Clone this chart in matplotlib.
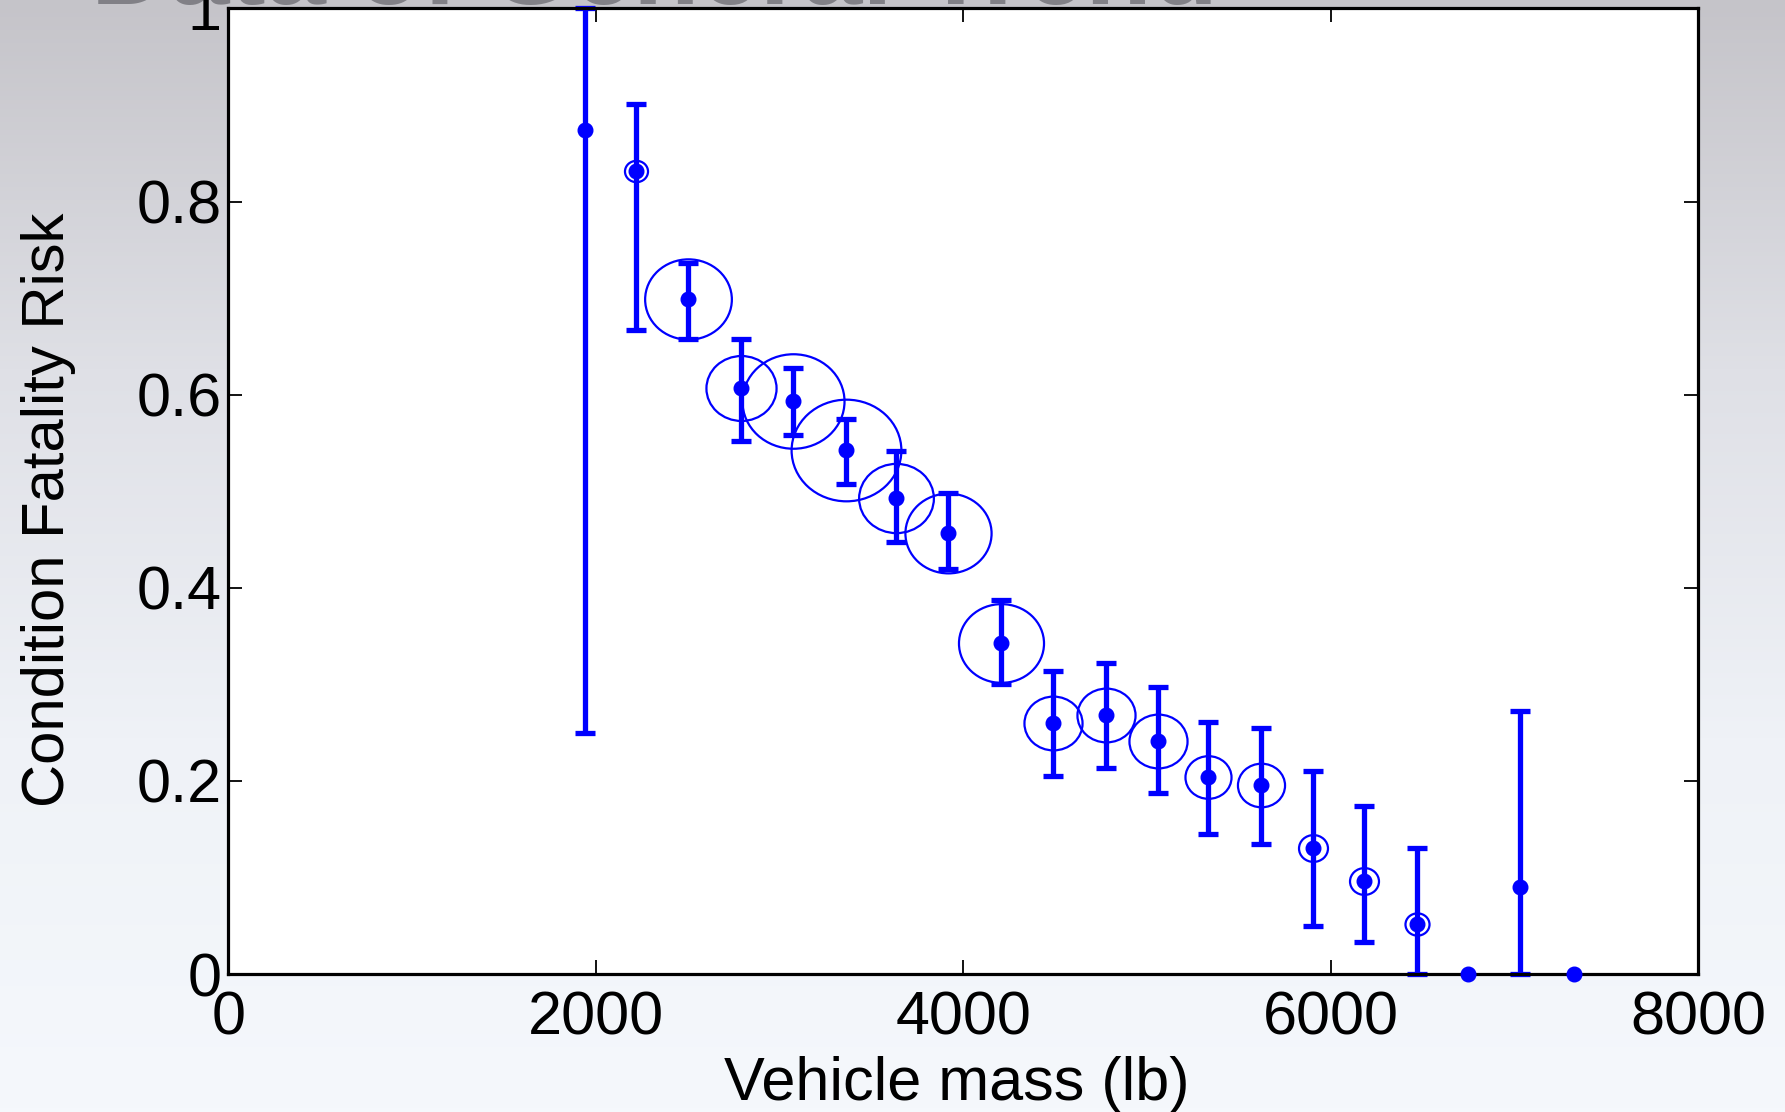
import numpy as np
import matplotlib
matplotlib.use("Agg")
import matplotlib.pyplot as plt
from matplotlib.path import Path
from matplotlib.colors import LinearSegmentedColormap

# vehicle mass bins (lb) and conditional fatality risk with 95% interval
mass = [1943, 2217, 2504, 2789, 3076, 3361, 3634, 3919, 4204, 4491,
        4778, 5063, 5335, 5622, 5902, 6180, 6470, 6746, 7029, 7324]
risk = [0.874, 0.832, 0.699, 0.607, 0.593, 0.543, 0.493, 0.457, 0.343, 0.260,
        0.268, 0.241, 0.204, 0.196, 0.130, 0.096, 0.052, 0.0, 0.090, 0.0]
risk_lo = [0.250, 0.667, 0.658, 0.552, 0.558, 0.508, 0.447, 0.419, 0.300, 0.205,
           0.213, 0.187, 0.145, 0.135, 0.050, 0.033, 0.0, 0.0, 0.0, 0.0]
risk_hi = [1.000, 0.901, 0.736, 0.658, 0.628, 0.575, 0.542, 0.498, 0.387, 0.314,
           0.322, 0.297, 0.261, 0.255, 0.210, 0.174, 0.130, 0.0, 0.272, 0.0]
# relative number of cases in each bin (ring area)
cases = [0, 5.5, 78, 51, 108, 125, 58, 77, 75, 35,
         35, 35, 22, 23, 8.7, 8.7, 6.0, 0, 0, 0]

xticks = [0, 2000, 4000, 6000, 8000]
yticks = [0, 0.2, 0.4, 0.6, 0.8, 1.0]
ytick_labels = ["0", "0.2", "0.4", "0.6", "0.8", "1"]

plt.rcParams.update({"font.family": ["Liberation Sans", "DejaVu Sans"]})
blue = "#0000ff"

fig = plt.figure(figsize=(17.85, 11.12), dpi=100)

# slide background: grey at the top fading to near white
bg = fig.add_axes([0, 0, 1, 1], zorder=-10)
cmap = LinearSegmentedColormap.from_list("slide", ["#c5c4c9", "#dfe0e6", "#eff2f7", "#f5f8fc"])
bg.imshow(np.linspace(0, 1, 256)[:, None], aspect="auto", cmap=cmap, extent=[0, 1, 0, 1])
bg.axis("off")

# slide title, mostly hidden behind the plot
fig.text(0.3667, 0.9962, "Data of General Trend", fontsize=78, color="#6a6a70",
         ha="center", va="baseline", weight="bold", zorder=-5, alpha=0.75)

ax = fig.add_axes([0.1280, 0.1241, 0.8232, 0.8683])
ax.set_facecolor("white")

# rings sized by number of cases
ring = Path.unit_circle()
ring = Path(ring.vertices * np.array([1.08, 1.0]), ring.codes)
for m, r, c in zip(mass, risk, cases):
    if c > 0:
        ax.plot(m, r, linestyle="none", marker=ring, markersize=7.07 * np.sqrt(c),
                markerfacecolor="none", markeredgecolor=blue, markeredgewidth=1.6,
                clip_on=False)

m_arr = np.array(mass)
r_arr = np.array(risk)
lo = r_arr - np.array(risk_lo)
hi = np.array(risk_hi) - r_arr
has_bar = (lo + hi) > 0
eb = ax.errorbar(m_arr[has_bar], r_arr[has_bar], yerr=[lo[has_bar], hi[has_bar]],
                 fmt="none", ecolor=blue, elinewidth=3.8, capsize=7.5, capthick=3.8)
for art in eb.lines[1] + eb.lines[2]:
    art.set_clip_on(False)
ax.plot(m_arr, r_arr, linestyle="none", marker="o", markersize=10.5,
        color=blue, clip_on=False, zorder=5)

ax.set_xlim(0, 8000)
ax.set_ylim(0, 1)
ax.set_xticks(xticks)
ax.set_yticks(yticks)
ax.set_yticklabels(ytick_labels)
for s in ax.spines.values():
    s.set_linewidth(2.3)
ax.tick_params(direction="in", length=10, width=1.3, top=True, right=True,
               labelsize=44, colors="black")
ax.tick_params(axis="x", pad=12)
ax.tick_params(axis="y", pad=5)

ax.set_xlabel("Vehicle mass (lb)", fontsize=44)
ax.set_ylabel("Condition Fatality Risk", fontsize=43)
ax.xaxis.set_label_coords(0.4955, -0.085)
ax.yaxis.set_label_coords(-0.104, 0.481)

fig.savefig("out.png", dpi=100)
